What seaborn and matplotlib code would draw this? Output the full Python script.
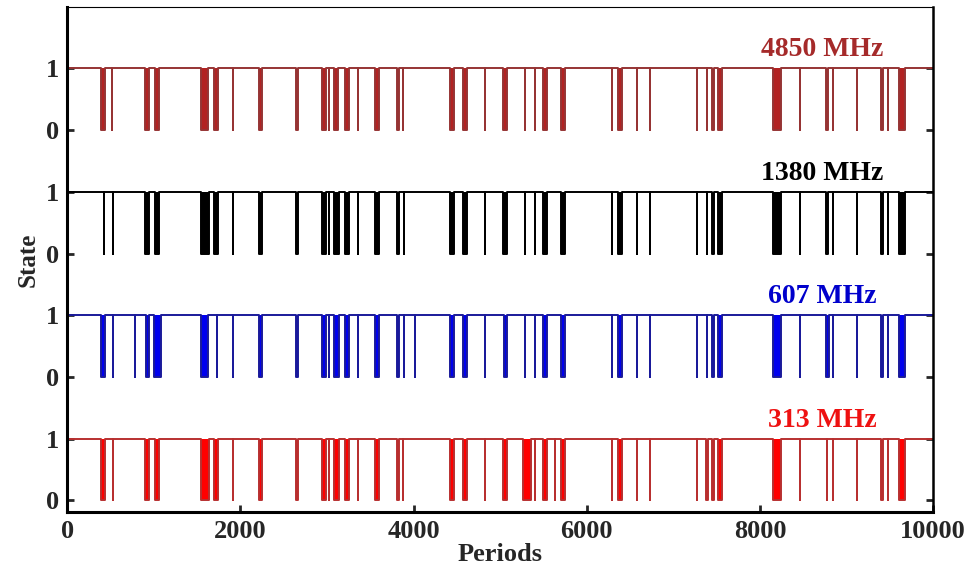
import numpy as np
import pandas as pd
import matplotlib
matplotlib.use("Agg")
import matplotlib.pyplot as plt
import seaborn as sns

# null episodes per band: (start period, length in periods)
nulls_4850 = [(388, 50), (515, 1), (898, 50), (1013, 50), (1550, 80), (1693, 50),
              (1915, 1), (2216, 28), (2641, 28), (2943, 50), (3022, 1), (3081, 50),
              (3212, 42), (3358, 1), (3559, 42), (3806, 28), (3878, 1), (4424, 42),
              (4574, 42), (4825, 1), (5033, 50), (5287, 1), (5402, 1), (5499, 42),
              (5706, 42), (6290, 1), (6366, 42), (6580, 1), (6730, 1), (7273, 1),
              (7388, 1), (7446, 28), (7519, 42), (8147, 100), (8462, 1), (8761, 28),
              (8843, 1), (9120, 1), (9396, 28), (9478, 1), (9612, 60)]
nulls_1380 = [(425, 1), (525, 1), (898, 50), (1013, 50), (1545, 90), (1693, 50),
              (1915, 1), (2216, 28), (2641, 28), (2943, 50), (3022, 1), (3080, 55),
              (3212, 42), (3358, 1), (3559, 42), (3806, 28), (3885, 1), (4424, 42),
              (4574, 42), (4825, 1), (5033, 50), (5285, 1), (5402, 1), (5499, 42),
              (5706, 42), (6290, 1), (6366, 42), (6580, 1), (6730, 1), (7273, 1),
              (7388, 1), (7446, 28), (7519, 42), (8147, 100), (8462, 1), (8761, 28),
              (8843, 1), (9120, 1), (9396, 28), (9478, 1), (9612, 60)]
nulls_607 = [(388, 50), (525, 1), (785, 1), (905, 35), (1000, 80), (1550, 80),
             (1728, 1), (1915, 1), (2216, 28), (2641, 28), (2944, 42), (3022, 1),
             (3082, 55), (3212, 42), (3358, 1), (3559, 42), (3806, 28), (3885, 1),
             (4018, 1), (4424, 42), (4574, 42), (4825, 1), (5039, 42), (5285, 1),
             (5402, 1), (5499, 42), (5706, 42), (6290, 1), (6366, 42), (6580, 1),
             (6730, 1), (7273, 1), (7388, 1), (7446, 28), (7519, 42), (8147, 100),
             (8462, 1), (8766, 28), (8843, 1), (9120, 1), (9396, 28), (9478, 1),
             (9612, 60)]
nulls_313 = [(391, 50), (527, 1), (898, 50), (1013, 50), (1545, 90), (1693, 50),
             (1915, 1), (2216, 28), (2641, 28), (2943, 50), (3022, 1), (3080, 60),
             (3212, 42), (3358, 1), (3559, 42), (3806, 28), (3878, 1), (4424, 42),
             (4574, 42), (4825, 1), (5033, 50), (5265, 95), (5402, 1), (5499, 42),
             (5635, 1), (5706, 42), (6290, 1), (6366, 42), (6580, 1), (6730, 1),
             (7273, 1), (7376, 28), (7446, 28), (7519, 42), (8147, 100), (8462, 1),
             (8770, 1), (8843, 1), (9120, 1), (9396, 28), (9478, 1), (9612, 60)]

bands = ["313 MHz", "607 MHz", "1380 MHz", "4850 MHz"]
band_nulls = [nulls_313, nulls_607, nulls_1380, nulls_4850]
line_colors = ["#b83030", "#1a1a9a", "black", "#963434"]
fill_colors = ["#ff0000", "#0000ee", "black", "#b22222"]
label_colors = ["#ee1111", "#0000cc", "black", "#a52a2a"]
n_periods = 10000

sns.set_style("ticks")
plt.rcParams["font.family"] = ["Liberation Serif", "DejaVu Serif"]
plt.rcParams["font.weight"] = "bold"

fig = plt.figure(figsize=(9.74, 5.67), dpi=100)
ax = fig.add_axes([0.069, 0.097, 0.889, 0.891])

for i, (band, nulls) in enumerate(zip(bands, band_nulls)):
    off = 2 * i
    xs, ys = [0], [1]
    for start, length in nulls:
        xs += [start, start + length]
        ys += [0, 1]
    xs.append(n_periods)
    ys.append(1)
    df = pd.DataFrame({"Periods": xs, "State": np.array(ys) + off})
    ax.fill_between(df["Periods"], df["State"], off + 1, step="post",
                    color=fill_colors[i], lw=0)
    sns.lineplot(data=df, x="Periods", y="State", drawstyle="steps-post",
                 estimator=None, sort=False, color=line_colors[i], lw=1.4, ax=ax)
    ax.text(8720, off + 1.3, band, color=label_colors[i], fontsize=20,
            fontweight="bold", ha="center", va="center")

ax.set_xlim(0, n_periods)
ax.set_ylim(-0.19, 8)
ax.set_xticks([0, 2000, 4000, 6000, 8000, 10000])
ax.set_yticks(range(8))
ax.set_yticklabels(["0", "1"] * 4)
ax.tick_params(direction="in", length=5, width=2, labelsize=19,
               right=True, top=False, pad=6)
ax.set_xlabel("Periods", fontsize=19, fontweight="bold", labelpad=0)
ax.set_ylabel("State", fontsize=18, fontweight="bold", labelpad=4)
for side, w in [("left", 2.2), ("bottom", 2.2), ("right", 1.8), ("top", 0.8)]:
    ax.spines[side].set_linewidth(w)
    ax.spines[side].set_color("black")
    ax.spines[side].set_visible(True)

fig.savefig("out.png", dpi=100)
plt.close("all")
